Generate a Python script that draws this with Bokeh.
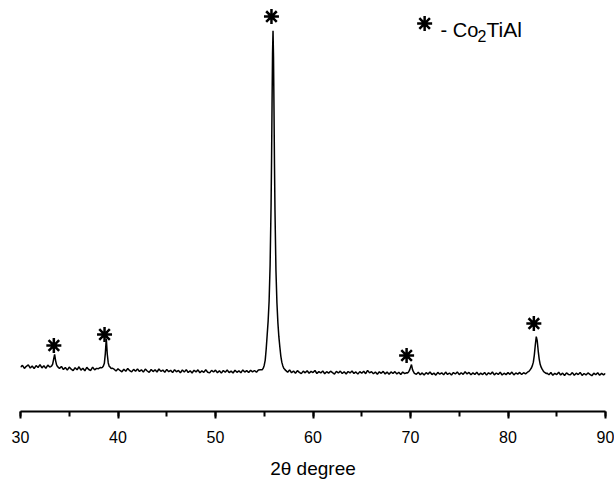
from bokeh.plotting import figure
from bokeh.models import Range1d, SingleIntervalTicker
from bokeh.core.properties import value
from bokeh.embed import file_html
from bokeh.resources import INLINE

# ---- data (2theta in degrees, intensity in arbitrary counts) ----
bg1_theta = [30.0, 30.2, 30.4, 30.6, 30.8, 31.0, 31.2, 31.4, 31.6, 31.8, 32.0, 32.2, 32.4, 32.6, 32.8, 33.0]
bg1_int = [440, 458, 428, 449, 462, 431, 452, 425, 456, 437, 466, 433, 454, 428, 460, 441]

pk1_theta = [33.1, 33.2, 33.3, 33.4, 33.5, 33.6, 33.7, 33.8, 33.9]
pk1_int = [445, 452, 470, 520, 566, 505, 462, 445, 436]

bg2_theta = [34.0, 34.2, 34.4, 34.6, 34.8, 35.0, 35.2, 35.4, 35.6, 35.8, 36.0,
             36.2, 36.4, 36.6, 36.8, 37.0, 37.2, 37.4, 37.6, 37.8, 38.0, 38.2]
bg2_int = [428, 447, 416, 436, 411, 441, 420, 405, 435, 414, 444,
           411, 430, 404, 438, 417, 407, 440, 413, 428, 425, 437]

pk2_theta = [38.3, 38.4, 38.5, 38.6, 38.7, 38.8, 38.9, 39.0, 39.1, 39.2, 39.3, 39.4]
pk2_int = [433, 438, 452, 478, 575, 725, 568, 482, 448, 440, 426, 431]

bg3_theta = [39.6, 39.8, 40.0, 40.2, 40.4, 40.6, 40.8, 41.0, 41.2, 41.4,
             41.6, 41.8, 42.0, 42.2, 42.4, 42.6, 42.8, 43.0, 43.2, 43.4,
             43.6, 43.8, 44.0, 44.2, 44.4, 44.6, 44.8, 45.0, 45.2, 45.4,
             45.6, 45.8, 46.0, 46.2, 46.4, 46.6, 46.8, 47.0, 47.2, 47.4,
             47.6, 47.8, 48.0, 48.2, 48.4, 48.6, 48.8, 49.0, 49.2, 49.4,
             49.6, 49.8, 50.0, 50.2, 50.4, 50.6, 50.8, 51.0, 51.2, 51.4,
             51.6, 51.8, 52.0, 52.2, 52.4, 52.6, 52.8, 53.0, 53.2, 53.4,
             53.6, 53.8, 54.0, 54.2, 54.4, 54.6]
bg3_int = [420, 402, 424, 407, 394, 419, 400, 428, 405, 393,
           418, 399, 423, 397, 415, 391, 421, 402, 388, 417,
           396, 414, 392, 422, 398, 411, 389, 418, 395, 409,
           386, 415, 394, 407, 384, 412, 391, 416, 387, 405,
           382, 410, 393, 413, 385, 403, 388, 414, 390, 383,
           408, 392, 411, 385, 404, 381, 407, 390, 412, 386,
           401, 382, 409, 389, 404, 384, 413, 391, 406, 387,
           410, 393, 407, 389, 412, 414]

pk3_theta = [54.8, 54.9, 55.0, 55.1, 55.2, 55.3, 55.4, 55.5, 55.6, 55.7, 55.75, 55.8, 55.85,
             55.9, 55.95, 56.0, 56.05, 56.1, 56.2, 56.3, 56.4, 56.5, 56.6, 56.7, 56.8, 56.9, 57.0, 57.1]
pk3_int = [415, 430, 460, 510, 620, 760, 900, 1100, 1450, 2050, 2500, 3050, 3550,
           3780, 3520, 3000, 2450, 2000, 1400, 1080, 880, 740, 640, 550, 490, 455, 430, 418]

bg4_theta = [57.2, 57.4, 57.6, 57.8, 58.0, 58.2, 58.4, 58.6, 58.8, 59.0,
             59.2, 59.4, 59.6, 59.8, 60.0, 60.2, 60.4, 60.6, 60.8, 61.0,
             61.2, 61.4, 61.6, 61.8, 62.0, 62.2, 62.4, 62.6, 62.8, 63.0,
             63.2, 63.4, 63.6, 63.8, 64.0, 64.2, 64.4, 64.6, 64.8, 65.0,
             65.2, 65.4, 65.6, 65.8, 66.0, 66.2, 66.4, 66.6, 66.8, 67.0,
             67.2, 67.4, 67.6, 67.8, 68.0, 68.2, 68.4, 68.6, 68.8, 69.0,
             69.2, 69.4, 69.6]
bg4_int = [408, 389, 413, 385, 402, 380, 406, 388, 376, 401,
           384, 405, 379, 398, 386, 407, 377, 396, 383, 403,
           375, 395, 381, 400, 385, 372, 398, 382, 401, 377,
           394, 373, 397, 383, 402, 378, 393, 371, 396, 380,
           399, 375, 408, 383, 395, 374, 392, 370, 394, 379,
           398, 373, 391, 369, 393, 377, 396, 372, 389, 368,
           392, 376, 384]

pk4_theta = [69.7, 69.8, 69.9, 70.0, 70.1, 70.2, 70.3, 70.4]
pk4_int = [383, 392, 410, 438, 466, 418, 395, 378]

bg5_theta = [70.6, 70.8, 71.0, 71.2, 71.4, 71.6, 71.8, 72.0, 72.2, 72.4,
             72.6, 72.8, 73.0, 73.2, 73.4, 73.6, 73.8, 74.0, 74.2, 74.4,
             74.6, 74.8, 75.0, 75.2, 75.4, 75.6, 75.8, 76.0, 76.2, 76.4,
             76.6, 76.8, 77.0, 77.2, 77.4, 77.6, 77.8, 78.0, 78.2, 78.4,
             78.6, 78.8, 79.0, 79.2, 79.4, 79.6, 79.8, 80.0, 80.2, 80.4,
             80.6, 80.8, 81.0, 81.2, 81.4, 81.6, 81.8, 82.0]
bg5_int = [370, 389, 365, 383, 362, 386, 371, 392, 367, 381,
           361, 388, 370, 384, 364, 391, 368, 382, 363, 387,
           372, 393, 366, 385, 369, 395, 373, 388, 365, 383,
           368, 390, 363, 381, 367, 387, 361, 384, 370, 392,
           364, 382, 368, 389, 362, 380, 366, 386, 369, 391,
           363, 383, 371, 388, 367, 385, 373, 390]

pk5_theta = [82.1, 82.2, 82.3, 82.4, 82.5, 82.6, 82.7, 82.8, 82.9, 83.0,
             83.1, 83.2, 83.3, 83.4, 83.5, 83.6, 83.7, 83.8, 83.9]
pk5_int = [395, 405, 418, 432, 455, 490, 560, 660, 744, 700,
           600, 520, 468, 440, 420, 405, 392, 385, 378]

bg6_theta = [84.0, 84.2, 84.4, 84.6, 84.8, 85.0, 85.2, 85.4, 85.6, 85.8,
             86.0, 86.2, 86.4, 86.6, 86.8, 87.0, 87.2, 87.4, 87.6, 87.8,
             88.0, 88.2, 88.4, 88.6, 88.8, 89.0, 89.2, 89.4, 89.6, 89.8, 90.0]
bg6_int = [380, 365, 387, 359, 379, 367, 389, 362, 381, 357,
           384, 368, 364, 386, 360, 380, 366, 388, 358, 377,
           363, 383, 369, 355, 380, 365, 385, 360, 378, 363, 379]

# peak markers (Co2TiAl reflections)
star_theta = [33.42, 38.62, 55.74, 69.6, 82.65]
star_int = [655, 764, 3920, 556, 873]

x_ticks_interval = 10
legend_parts = ["- Co", "2", "TiAl"]
x_label = "2\u03b8 degree"

two_theta = (bg1_theta + pk1_theta + bg2_theta + pk2_theta + bg3_theta + pk3_theta +
             bg4_theta + pk4_theta + bg5_theta + pk5_theta + bg6_theta)
intensity = (bg1_int + pk1_int + bg2_int + pk2_int + bg3_int + pk3_int +
             bg4_int + pk4_int + bg5_int + pk5_int + bg6_int)
assert len(two_theta) == len(intensity), (len(two_theta), len(intensity))

FONT = "Liberation Sans"

p = figure(width=614, height=486, output_backend="svg", toolbar_location=None,
           x_range=Range1d(30, 90), y_range=Range1d(0, 4000),
           min_border_left=20, min_border_right=9, min_border_top=8, min_border_bottom=75,
           y_axis_location=None)
p.outline_line_color = None
p.grid.visible = False
p.background_fill_color = "white"

p.line(two_theta, intensity, line_color="black", line_width=1.5)

p.scatter(star_theta, star_int, marker="asterisk", size=15, line_color="black", line_width=2.5)

# legend (star + "- Co2TiAl" with subscript)
leg_x, leg_y = 71.45, 3851
txt_x, txt_y = 73.08, 3790
p.scatter([leg_x], [leg_y], marker="asterisk", size=15, line_color="black", line_width=2.5)
p.text([txt_x], [txt_y], text=[legend_parts[0]], text_font=value(FONT), text_font_size="20px",
       text_baseline="alphabetic", text_align="left", text_color="black")
p.text([txt_x], [txt_y], text=[legend_parts[1]], text_font=value(FONT), text_font_size="16px",
       text_baseline="alphabetic", text_align="left", text_color="black",
       x_offset=37, y_offset=6)
p.text([txt_x], [txt_y], text=[legend_parts[2]], text_font=value(FONT), text_font_size="21px",
       text_baseline="alphabetic", text_align="left", text_color="black",
       x_offset=46)

ax = p.xaxis[0]
ax.ticker = SingleIntervalTicker(interval=x_ticks_interval, num_minor_ticks=2)
ax.axis_line_width = 2
ax.axis_line_color = "black"
ax.major_tick_line_width = 2
ax.minor_tick_line_width = 2
ax.major_tick_in = 0
ax.major_tick_out = 7
ax.minor_tick_in = 0
ax.minor_tick_out = 5
ax.major_label_text_font = FONT
ax.major_label_text_font_size = "16px"
ax.major_label_text_color = "black"
ax.major_label_standoff = 12
ax.axis_label = x_label
ax.axis_label_text_font = FONT
ax.axis_label_text_font_size = "19px"
ax.axis_label_text_font_style = "normal"
ax.axis_label_text_color = "black"
ax.axis_label_standoff = 12

open("out.html", "w").write(file_html(p, INLINE))
